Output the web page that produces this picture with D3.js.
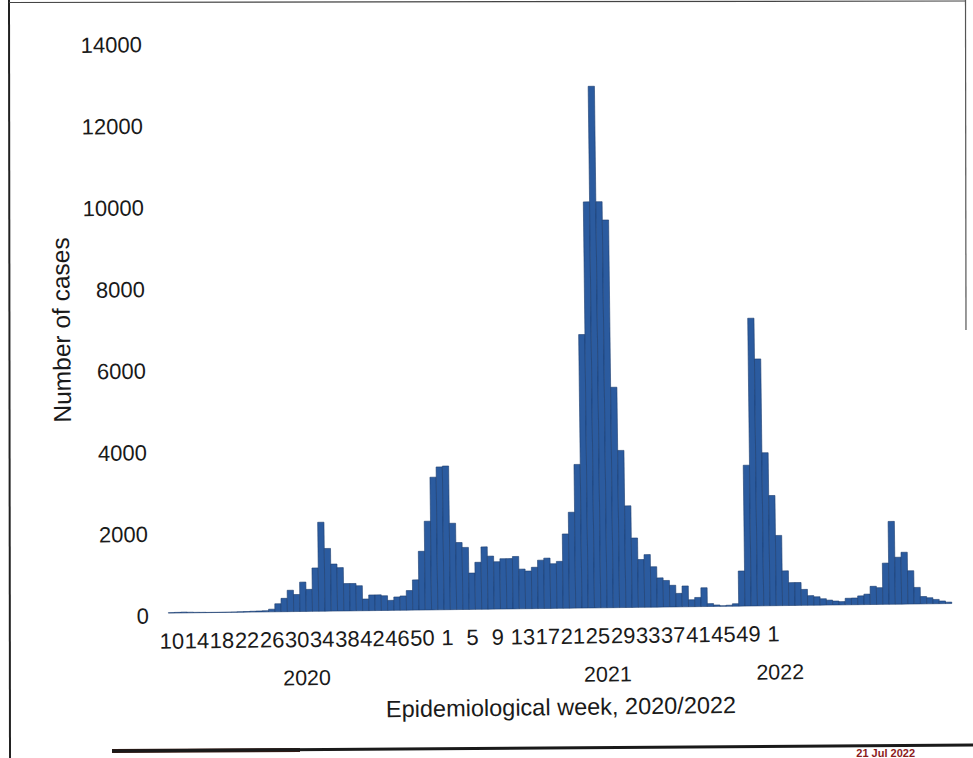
<!DOCTYPE html>
<html><head><meta charset="utf-8">
<script src="https://cdn.jsdelivr.net/npm/d3@7"></script>
<style>html,body{margin:0;padding:0;background:#fff;} svg{display:block;}</style>
</head><body>
<svg id="chart" width="973" height="758"></svg>
<script>
// ---- categories (epidemiological weeks) ----
const weeks2020 = [10,11,12,13,14,15,16,17,18,19,20,21,22,23,24,25,26,27,28,29,30,31,32,33,34,35,36,37,38,39,40,41,42,43,44,45,46,47,48,49,50,51,52,53];
const weeks2021 = [1,2,3,4,5,6,7,8,9,10,11,12,13,14,15,16,17,18,19,20,21,22,23,24,25,26,27,28,29,30,31,32,33,34,35,36,37,38,39,40,41,42,43,44,45,46,47,48,49,50,51,52];
const weeks2022 = [1,2,3,4,5,6,7,8,9,10,11,12,13,14,15,16,17,18,19,20,21,22,23,24,25,26,27,28,29];

// ---- number of cases per week ----
const cases2020 = [10,15,20,15,10,8,5,5,5,5,8,12,15,20,25,30,65,196,327,523,417,719,539,1062,2180,1536,1152,1062,670,670,613,286,384,384,360,245,327,350,480,740,1438,2173,3250,3500];
const cases2021 = [3520,2116,1642,1520,890,1152,1527,1299,1160,1233,1233,1283,972,923,1013,1185,1233,1094,1150,1820,2350,3520,6700,9950,12780,9950,9500,5400,3850,2490,1700,1170,1290,990,715,650,530,330,510,170,225,460,70,35,15,25,60,860,3450,7050,6050,3750];
const cases2022 = [2700,1720,850,560,560,390,235,205,155,120,95,80,160,165,215,255,445,410,1010,2030,1150,1270,815,405,180,148,105,65,35];

// ---- tick labels ----
const tickWeeks2020 = [10,14,18,22,26,30,34,38,42,46,50];
const tickWeeks2021 = [1,5,9,13,17,21,25,29,33,37,41,45,49];
const tickWeeks2022 = [1];
const yTicks = [0,2000,4000,6000,8000,10000,12000,14000];
const yearLabels = [["2020",10,53],["2021",1,52],["2022",1,3]];
const yTitle = "Number of cases";
const xTitle = "Epidemiological week, 2020/2022";
const footText = "21 Jul 2022";

// ---- build table ----
const data = [
  ...weeks2020.map((w,k)=>({key:"2020-"+w, year:"2020", week:w, value:cases2020[k]})),
  ...weeks2021.map((w,k)=>({key:"2021-"+w, year:"2021", week:w, value:cases2021[k]})),
  ...weeks2022.map((w,k)=>({key:"2022-"+w, year:"2022", week:w, value:cases2022[k]}))
];
const tickKeys = [
  ...tickWeeks2020.map(w=>"2020-"+w),
  ...tickWeeks2021.map(w=>"2021-"+w),
  ...tickWeeks2022.map(w=>"2022-"+w)
];

const FONT = "'Liberation Sans', Arial, sans-serif";
const svg = d3.select("#chart");
svg.append("rect").attr("width",973).attr("height",758).attr("fill","#fff");

const g = svg.append("g").attr("transform","rotate(-0.7 486 379)");

const x = d3.scaleBand().domain(data.map(d=>d.key)).range([165.5, 949]).padding(0);
const y = d3.scaleLinear().domain([0,14000]).range([609.2, 37.8]);

// bars
g.append("g").selectAll("rect").data(data).join("rect")
  .attr("x", d=>x(d.key))
  .attr("width", x.bandwidth())
  .attr("y", d=>y(d.value))
  .attr("height", d=>y(0)-y(d.value))
  .attr("fill","#2b5b9f")
  .attr("stroke","#1b3c6e")
  .attr("stroke-width",0.6);

// y axis
const yAxis = g.append("g").attr("transform","translate(146,0)")
  .call(d3.axisLeft(y).tickValues(yTicks).tickSize(0).tickPadding(0).tickFormat(d3.format("d")));
yAxis.select(".domain").remove();
yAxis.selectAll("text").attr("font-family",FONT).attr("font-size",22).attr("fill","#1a1a1a").attr("dy","0.44em");

// x axis
const xAxis = g.append("g").attr("transform","translate(0,"+y(0)+")")
  .call(d3.axisBottom(x).tickValues(tickKeys).tickSize(0).tickPadding(20).tickFormat(k=>k.split("-")[1]));
xAxis.select(".domain").remove();
xAxis.selectAll("text").attr("font-family",FONT).attr("font-size",22).attr("fill","#1a1a1a");

// year labels
g.append("g").selectAll("text").data(yearLabels).join("text")
  .attr("x", d=> (x(d[0]+"-"+d[1]) + x(d[0]+"-"+d[2]) + x.bandwidth())/2)
  .attr("y", 683)
  .attr("text-anchor","middle")
  .attr("font-family",FONT).attr("font-size",21.5).attr("fill","#1a1a1a")
  .text(d=>d[0]);

// axis titles
g.append("text").attr("transform","translate(70.6,324.8) rotate(-90)")
  .attr("text-anchor","middle").attr("font-family",FONT).attr("font-size",24.5).attr("fill","#1a1a1a")
  .text(yTitle);
g.append("text").attr("x",557).attr("y",716)
  .attr("text-anchor","middle").attr("font-family",FONT).attr("font-size",23.5).attr("fill","#1a1a1a")
  .text(xTitle);

// scanned page frame
svg.append("line").attr("x1",9).attr("y1",0).attr("x2",10).attr("y2",758).attr("stroke","#222").attr("stroke-width",2);
svg.append("line").attr("x1",9).attr("y1",2.5).attr("x2",966).attr("y2",1).attr("stroke","#444").attr("stroke-width",1.2);
svg.append("line").attr("x1",965.5).attr("y1",0).attr("x2",966).attr("y2",330).attr("stroke","#555").attr("stroke-width",1.2);
svg.append("line").attr("x1",112).attr("y1",751).attr("x2",300).attr("y2",750).attr("stroke","#3a1c14").attr("stroke-width",4);
svg.append("line").attr("x1",112).attr("y1",751).attr("x2",973).attr("y2",745).attr("stroke","#1a1a1a").attr("stroke-width",3);
svg.append("text").attr("x",915).attr("y",757).attr("text-anchor","end")
  .attr("font-family",FONT).attr("font-size",11).attr("font-weight","bold").attr("fill","#8b1c1c")
  .text(footText);
</script>
</body></html>
